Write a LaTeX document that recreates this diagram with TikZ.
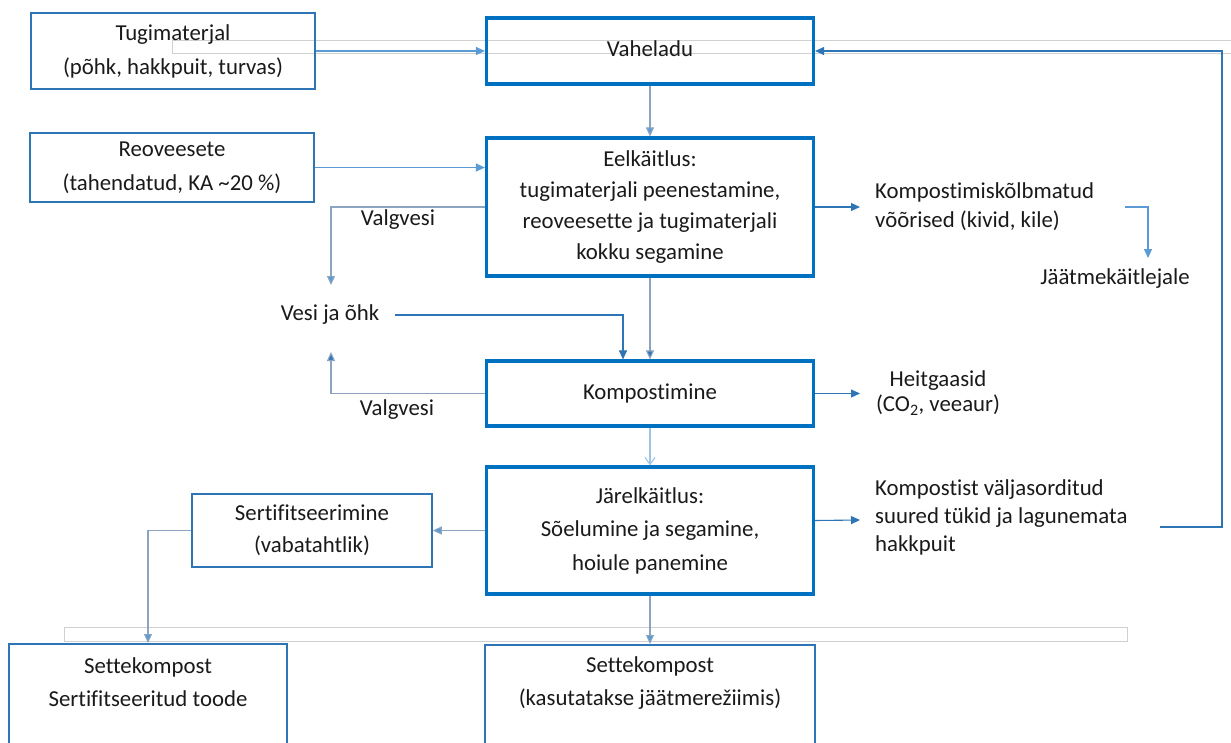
\documentclass[tikz,border=0pt]{standalone}
\usepackage{fontspec}
\setmainfont{Carlito}[Ligatures=NoCommon]
\usetikzlibrary{arrows.meta}
\definecolor{boxblue}{HTML}{0070C0}
\definecolor{thinblue}{HTML}{2E75B6}
\definecolor{lightblue}{HTML}{5B9BD5}
\definecolor{paleblue}{HTML}{9DC3E6}
\definecolor{greyblue}{HTML}{8AA4C2}
\definecolor{guide}{HTML}{D0D0D0}
\definecolor{ink}{HTML}{1A1A1A}

\begin{document}
\begin{tikzpicture}[x=1pt,y=-1pt,
  every node/.style={text=ink},
  fs/.style={font=\fontsize{22.8}{#1}\selectfont},
  mainbox/.style={draw=boxblue, line width=3.2pt, minimum width=327pt, align=center, inner sep=0pt},
  sidebox/.style={draw=thinblue, line width=1.6pt, align=center, inner sep=0pt},
  txt/.style={inner sep=0pt, align=center, fs=30},
  tip/.style={-{Triangle[length=9pt,width=8pt,fill=#1]}},
  lightflow/.style={line width=1.1pt, draw=lightblue, tip=lightblue},
  greyflow/.style={line width=1.1pt, draw=greyblue, tip=lightblue},
  darkflow/.style={line width=1.1pt, draw=thinblue, tip=thinblue},
  greydark/.style={line width=1.1pt, draw=greyblue, tip=thinblue},
  openflow/.style={line width=1.1pt, draw=paleblue, -{Straight Barb[length=7pt,width=10pt]}},
  guideline/.style={draw=guide, line width=1pt}
]
\fill[white] (0,0) rectangle (1231,742);
\useasboundingbox (0,0) rectangle (1231,742);

% faint guide frames behind the chart
\draw[guideline] (172,40) rectangle (1245,53);
\draw[guideline] (64,627) rectangle (1127,641);

% process boxes
\node[mainbox, minimum height=66pt, fs=34] (vah) at (650,51) {\raisebox{4pt}{Vaheladu}};
\node[mainbox, minimum height=138pt, fs=31] (eel) at (650,207)
  {Eelkäitlus:\\tugimaterjali peenestamine,\\reoveesette ja tugimaterjali\\kokku segamine};
\node[mainbox, minimum height=65pt, fs=31] (komp) at (650,393.5) {Kompostimine};
\node[mainbox, minimum height=127pt, fs=33.5] (jar) at (650,530.5)
  {Järelkäitlus:\\Sõelumine ja segamine,\\hoiule panemine};

% input and output boxes
\node[sidebox, minimum width=284pt, minimum height=76pt, fs=34] (tug) at (173,51)
  {Tugimaterjal\\(põhk, hakkpuit, turvas)};
\node[sidebox, minimum width=284pt, minimum height=69pt, fs=34] (reo) at (172,167.5)
  {Reoveesete\\(tahendatud, KA \textasciitilde 20 \%)};
\node[sidebox, minimum width=240pt, minimum height=73pt, fs=32] (sert) at (312,530.5)
  {Sertifitseerimine\\(vabatahtlik)};
\node[sidebox, minimum width=278pt, minimum height=160pt, anchor=north] (sk1) at (148,643) {};
\node[txt, fs=33] (sk1t) at (148,682) {Settekompost\\Sertifitseeritud toode};
\node[sidebox, minimum width=330pt, minimum height=160pt, anchor=north] (sk2) at (650,644) {};
\node[txt, fs=33] (sk2t) at (650,683) {Settekompost\\(kasutatakse jäätmerežiimis)};

% free labels
\node[txt] (valg1) at (398,220) {Valgvesi};
\node[txt] (vesi) at (330,315) {Vesi ja õhk};
\node[txt] (valg2) at (397,410) {Valgvesi};
\node[txt, fs=25] (heit) at (938,393) {Heitgaasid\\(CO\textsubscript{2}, veeaur)};
\node[txt, fs=29, align=left, anchor=west] (kompk) at (875,206.5)
  {Kompostimiskõlbmatud\\võõrised (kivid, kile)};
\node[txt] (jaat) at (1115,279) {Jäätmekäitlejale};
\node[txt, fs=28, align=left, anchor=west] (valj) at (875,517)
  {Kompostist väljasorditud\\suured tükid ja lagunemata\\hakkpuit};

% connector end points
\coordinate (vin) at (331,285);
\coordinate (vout) at (331,352);
\coordinate (kin) at (860,207);
\coordinate (hin) at (860,393.5);
\coordinate (jin) at (860,520);
\coordinate (kout) at (1125,207);
\coordinate (jaatin) at (1148,258);
\coordinate (fb0) at (1160,527);
\coordinate (fb1) at (1222,527);

% connectors
\draw[lightflow] (tug.east) -- (tug.east -| vah.west);
\draw[greyflow] (vah.south) -- (eel.north);
\draw[lightflow] (reo.east) -- (reo.east -| eel.west);
\draw[greyflow] (eel.west) -| (vin);
\draw[darkflow] (vesi.east) ++(16,0) -| ([xshift=-27pt]komp.north);
\draw[greydark] (eel.south) -- (komp.north);
\draw[greydark] (komp.west) -| (vout);
\draw[darkflow] (komp.east) -- (hin);
\draw[darkflow] (eel.east) -- (kin);
\draw[lightflow] (kout) -| (jaatin);
\draw[openflow] (komp.south) -- (jar.north);
\draw[darkflow] ([yshift=10pt]jar.east) -- (jin);
\draw[darkflow] (fb0) -- (fb1) |- (vah.east);
\draw[greyflow] (jar.west) -- (sert.east);
\draw[greyflow] (sert.west) -| (sk1.north);
\draw[greyflow] (jar.south) -- (sk2.north);
\end{tikzpicture}
\end{document}
